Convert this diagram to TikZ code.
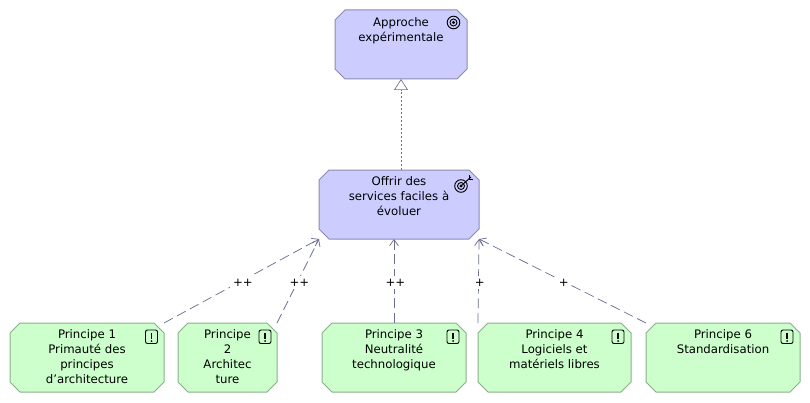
\documentclass[tikz,border=0pt]{standalone}
\usepackage{fontspec}
\setmainfont{DejaVu Sans}
\usetikzlibrary{arrows.meta}
\definecolor{boxblue}{HTML}{CCCCFF}
\definecolor{boxgreen}{HTML}{CCFFCC}
\definecolor{edgeblue}{HTML}{8A8AAE}
\definecolor{edgegreen}{HTML}{8AAE8A}
\definecolor{linkgray}{HTML}{6A7090}
\tikzset{
	element/.style={rectangle, inner sep=0pt, outer sep=0pt, minimum height=51.75pt},
	goalbox/.style={draw=edgeblue, fill=boxblue, line width=0.75pt},
	principlebox/.style={draw=edgegreen, fill=boxgreen, line width=0.75pt},
	boxtext/.style={anchor=north, align=center, inner sep=0pt, text=black,
		font=\fontsize{8.8}{11.25}\selectfont},
	influence/.style={draw=linkgray, line width=0.55pt, dash pattern=on 7.5pt off 3.5pt,
		-{Straight Barb[length=4.5pt,width=6.5pt]}},
	realizes/.style={draw=linkgray, line width=0.5pt, dash pattern=on 1.5pt off 1.5pt,
		-{Triangle[open,fill=white,length=8.25pt,width=10.5pt]}},
	weight/.style={fill=white, inner sep=2pt, text=black, xshift=1pt, yshift=-1pt,
		font=\fontsize{8.8}{11}\selectfont},
	icon/.style={draw=black, line width=0.7pt}
}
\begin{document}
\begin{tikzpicture}[x=0.75pt, y=-0.75pt]
	\useasboundingbox (0,0) rectangle (810,403);
	% les deux objectifs
	\node[element, minimum width=99pt] (approche) at (401,44.5) {};
	\node[element, minimum width=120pt] (offrir) at (399,204.5) {};
	% les principes
	\node[element, minimum width=115.5pt] (p1) at (87,357.5) {};
	\node[element, minimum width=74.25pt] (p2) at (227.5,357.5) {};
	\node[element, minimum width=108pt] (p3) at (394,357.5) {};
	\node[element, minimum width=114.75pt] (p4) at (554.5,357.5) {};
	\node[element, minimum width=115.5pt] (p6) at (723,357.5) {};
	% les contours a coins coupes
	\foreach \n/\s in {approche/goalbox,offrir/goalbox,p1/principlebox,p2/principlebox,p3/principlebox,p4/principlebox,p6/principlebox}
		\draw[\s] ([xshift=7.5pt]\n.north west) -- ([xshift=-7.5pt]\n.north east)
			-- ([yshift=-7.5pt]\n.north east) -- ([yshift=7.5pt]\n.south east)
			-- ([xshift=-7.5pt]\n.south east) -- ([xshift=7.5pt]\n.south west)
			-- ([yshift=7.5pt]\n.south west) -- ([yshift=-7.5pt]\n.north west) -- cycle;
	% les textes
	\node[boxtext] (approche-t) at ([yshift=-5.5pt]approche.north) {Approche\\expérimentale};
	\node[boxtext] (offrir-t) at ([yshift=-5pt]offrir.north) {Offrir des\\services faciles à\\évoluer};
	\node[boxtext] (p1-t) at ([yshift=-5pt]p1.north) {Principe 1\\Primauté des\\principes\\d’architecture};
	\node[boxtext] (p2-t) at ([yshift=-5pt]p2.north) {Principe\\2\\Architec\\ture};
	\node[boxtext] (p3-t) at ([yshift=-5pt]p3.north) {Principe 3\\Neutralité\\technologique};
	\node[boxtext] (p4-t) at ([yshift=-5pt]p4.north) {Principe 4\\Logiciels et\\matériels libres};
	\node[boxtext] (p6-t) at ([yshift=-5pt]p6.north) {Principe 6\\Standardisation};
	% les liens
	\draw[realizes] (approche.south |- offrir.north) -- (approche.south);
	\draw[influence] (p1.north east) -- node[weight] (w1) {++} (offrir.south west);
	\draw[influence] (p2.north east) -- node[weight] (w2) {++} (offrir.south west);
	\draw[influence] (p3.north) -- node[weight] (w3) {++} (p3.north |- offrir.south);
	\draw[influence] (p4.north west) -- node[weight] (w4) {+} (offrir.south east);
	\draw[influence] (p6.north west) -- node[weight] (w6) {+} (offrir.south east);
	% les icones
	\foreach \r in {1,3.5,6.3}
		\draw[icon] (453.5,22.5) circle (\r);
	\foreach \r in {1,3.5,6.3}
		\draw[icon] (461,186) circle (\r);
	\draw[icon] (461,186) -- (471,177);
	\draw[icon] (469,175) -- (469,179) -- (473,179);
	\foreach \x in {151.5,265,453,618,787} {
		\draw[icon, rounded corners=1.5pt] (\x-6,330) rectangle (\x+6,343.5);
		\draw[line width=1.2pt] (\x,332.5) -- (\x,338.5);
		\fill (\x,341) circle (1);
	}
\end{tikzpicture}
\end{document}
